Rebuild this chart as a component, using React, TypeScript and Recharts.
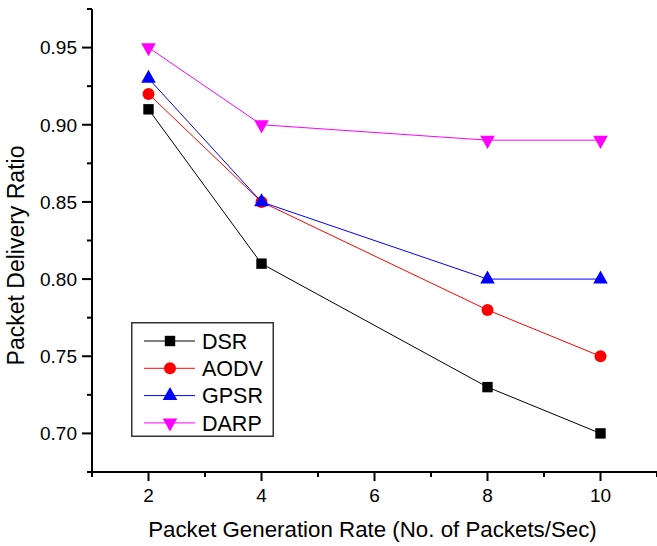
import React from "react";
import { LineChart, Line, XAxis, YAxis, Legend } from "recharts";

// packet generation rate (packets/sec) on x
const rates = [2, 4, 8, 10];
const dsr = [0.91, 0.81, 0.73, 0.7];
const aodv = [0.92, 0.85, 0.78, 0.75];
const gpsr = [0.93, 0.85, 0.8, 0.8];
const darp = [0.95, 0.9, 0.89, 0.89];

const xTicks = [1, 2, 3, 4, 5, 6, 7, 8, 9, 10, 11];
const yTicks = [0.675, 0.7, 0.725, 0.75, 0.775, 0.8, 0.825, 0.85, 0.875, 0.9, 0.925, 0.95, 0.975];

const FONT = "'Liberation Sans', Arial, Helvetica, sans-serif";

type Shape = "square" | "circle" | "up" | "down";

const SERIES: { key: string; color: string; shape: Shape }[] = [
  { key: "DSR", color: "#000000", shape: "square" },
  { key: "AODV", color: "#ff0000", shape: "circle" },
  { key: "GPSR", color: "#0000ff", shape: "up" },
  { key: "DARP", color: "#ff00ff", shape: "down" },
];

const data = rates.map((rate, i) => ({
  rate,
  DSR: dsr[i],
  AODV: aodv[i],
  GPSR: gpsr[i],
  DARP: darp[i],
}));

function Marker({ shape, cx, cy, color }: { shape: Shape; cx: number; cy: number; color: string }) {
  if (shape === "square") {
    return <rect x={cx - 5.2} y={cy - 5.2} width={10.4} height={10.4} fill={color} />;
  }
  if (shape === "circle") {
    return <circle cx={cx} cy={cy} r={6} fill={color} />;
  }
  if (shape === "up") {
    return <polygon points={`${cx},${cy - 8.7} ${cx + 7.3},${cy + 4.4} ${cx - 7.3},${cy + 4.4}`} fill={color} />;
  }
  return <polygon points={`${cx},${cy + 8.7} ${cx + 7.3},${cy - 4.4} ${cx - 7.3},${cy - 4.4}`} fill={color} />;
}

const XTick = (props: any) => {
  const { x, y, payload } = props;
  const major = payload.value % 2 === 0;
  return (
    <g>
      <line x1={x} y1={y} x2={x} y2={y + (major ? 9 : 5)} stroke="#000" strokeWidth={2} />
      {major && (
        <text x={x} y={y + 30} textAnchor="middle" fontSize={19} fontFamily={FONT} fill="#000">
          {payload.value}
        </text>
      )}
    </g>
  );
};

const YTick = (props: any) => {
  const { x, y, payload } = props;
  const major = Math.round(payload.value * 1000) % 50 === 0;
  return (
    <g>
      <line x1={x - (major ? 10 : 5)} y1={y} x2={x} y2={y} stroke="#000" strokeWidth={2} />
      {major && (
        <text x={x - 15} y={y} dy="0.36em" textAnchor="end" fontSize={19} fontFamily={FONT} fill="#000">
          {payload.value.toFixed(2)}
        </text>
      )}
    </g>
  );
};

const renderLegend = () => (
  <svg width={144} height={116} style={{ display: "block" }}>
    <rect x={0.75} y={0.75} width={141.5} height={113.5} fill="#fff" stroke="#333" strokeWidth={1.5} />
    {SERIES.map((s, i) => {
      const cy = 19 + i * 27.3;
      return (
        <g key={s.key}>
          <line x1={13} y1={cy} x2={64} y2={cy} stroke={s.color} strokeWidth={1} />
          <Marker shape={s.shape} cx={39} cy={cy} color={s.color} />
          <text x={71} y={cy} dy="0.36em" fontSize={21.5} fontFamily={FONT} fill="#000">
            {s.key}
          </text>
        </g>
      );
    })}
  </svg>
);

export default function App() {
  return (
    <div style={{ position: "absolute", left: 0, top: 0, width: 657, height: 546, background: "#fff" }}>
      <LineChart width={657} height={546} data={data} margin={{ top: 9, right: 0, bottom: 0, left: 0 }}>
        <XAxis
          dataKey="rate"
          type="number"
          domain={[1, 11]}
          ticks={xTicks}
          interval={0}
          height={74}
          tickSize={0}
          tickMargin={0}
          tick={<XTick />}
          axisLine={{ stroke: "#000", strokeWidth: 2 }}
          label={(p: any) => {
            const vb = p.viewBox;
            return (
              <text x={vb.x + vb.width / 2 - 2} y={vb.y + 65} textAnchor="middle" fontSize={22.3} fontFamily={FONT} fill="#000">
                Packet Generation Rate (No. of Packets/Sec)
              </text>
            );
          }}
        />
        <YAxis
          type="number"
          domain={[0.675, 0.975]}
          ticks={yTicks}
          interval={0}
          width={92}
          tickSize={0}
          tickMargin={0}
          tick={<YTick />}
          axisLine={{ stroke: "#000", strokeWidth: 2 }}
          label={(p: any) => {
            const vb = p.viewBox;
            const cx = 24;
            const cy = vb.y + vb.height / 2 + 15;
            return (
              <text x={cx} y={cy} textAnchor="middle" transform={`rotate(-90 ${cx} ${cy})`} fontSize={23} fontFamily={FONT} fill="#000">
                Packet Delivery Ratio
              </text>
            );
          }}
        />
        <Legend
          layout="vertical"
          align="center"
          verticalAlign="middle"
          content={renderLegend}
          wrapperStyle={{ left: 131, top: 322, width: 144, height: 116 }}
        />
        {SERIES.map((s) => (
          <Line
            key={s.key}
            dataKey={s.key}
            type="linear"
            stroke={s.color}
            strokeWidth={1}
            isAnimationActive={false}
            activeDot={false}
            dot={(p: any) => <Marker key={`${s.key}-${p.index}`} shape={s.shape} cx={p.cx} cy={p.cy} color={s.color} />}
          />
        ))}
      </LineChart>
    </div>
  );
}
